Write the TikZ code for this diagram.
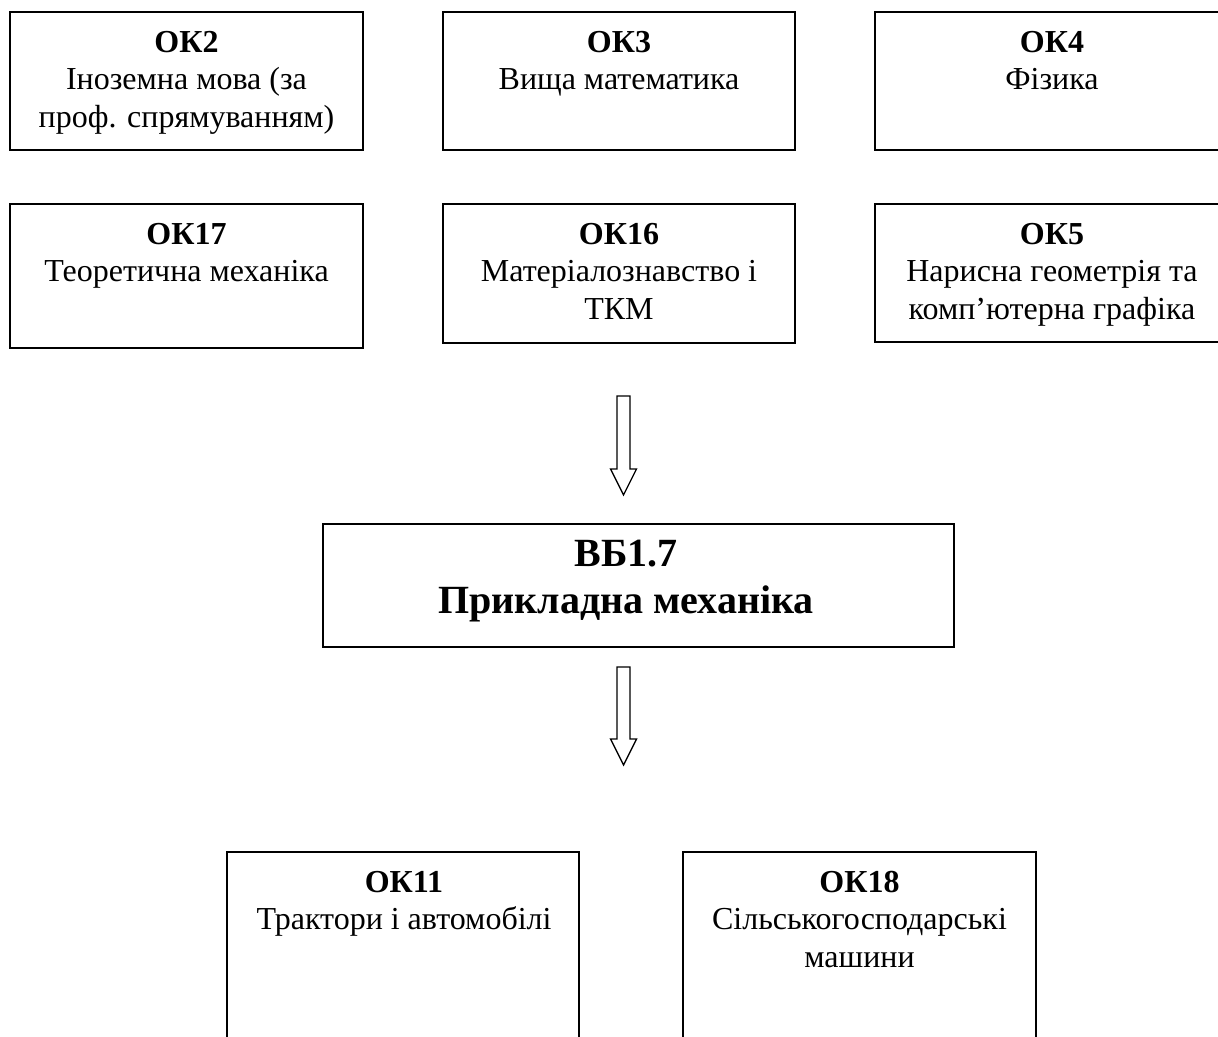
\documentclass[tikz,border=0pt]{standalone}
\usepackage{fontspec}
\setmainfont{Liberation Serif}
\usepackage{tikz}

\begin{document}
\begin{tikzpicture}[x=0.75pt,y=0.75pt,
        box/.style={line width=1.3pt, black},
        txt/.style={anchor=north, inner sep=0pt, align=center, font=\fontsize{24}{28}\selectfont},
        bigtxt/.style={anchor=north, inner sep=0pt, align=center, font=\fontsize{30}{35}\selectfont\bfseries},
        hollow/.style={line width=1pt, black, fill=white, line join=miter}]
        \useasboundingbox (0,0) rectangle (1218,1036);

        \coordinate (A) at (623.5,640);
        \coordinate (B) at (623.5,369);

        \draw[box] (10,1024) rectangle (363,886);
        \draw[box] (443,1024) rectangle (795,886);
        \draw[box] (875,1024) rectangle (1229,886);
        \draw[box] (10,832) rectangle (363,688);
        \draw[box] (443,832) rectangle (795,693);
        \draw[box] (875,832) rectangle (1229,694);
        \draw[box] (323,512) rectangle (954,389);
        \draw[box] (227,184) rectangle (579,-10);
        \draw[box] (683,184) rectangle (1036,-10);

        \node[txt] (ok2) at (186.5,1005) {\textbf{ОК2}\\Іноземна мова (за\\проф. спрямуванням)};
        \node[txt] (ok3) at (619,1005) {\textbf{ОК3}\\Вища математика};
        \node[txt] (ok4) at (1052,1005) {\textbf{ОК4}\\Фізика};
        \node[txt] (ok17) at (186.5,813) {\textbf{ОК17}\\Теоретична механіка};
        \node[txt] (ok16) at (619,813) {\textbf{ОК16}\\Матеріалознавство і\\ТКМ};
        \node[txt] (ok5) at (1052,813) {\textbf{ОК5}\\Нарисна геометрія та\\комп’ютерна графіка};
        \node[bigtxt] (vb17) at (626,496) {ВБ1.7\\Прикладна механіка};
        \node[txt] (ok11) at (404,165) {\textbf{ОК11}\\Трактори і автомобілі};
        \node[txt] (ok18) at (859.5,165) {\textbf{ОК18}\\Сільськогосподарські\\машини};

        \draw[hollow] (A) ++(-6.5,0) -- ++(0,-73) -- ++(-6.5,0) -- ++(13,-26)
                      -- ++(13,26) -- ++(-6.5,0) -- ++(0,73) -- cycle;
        \draw[hollow] (B) ++(-6.5,0) -- ++(0,-72) -- ++(-6.5,0) -- ++(13,-26)
                      -- ++(13,26) -- ++(-6.5,0) -- ++(0,72) -- cycle;
\end{tikzpicture}
\end{document}
